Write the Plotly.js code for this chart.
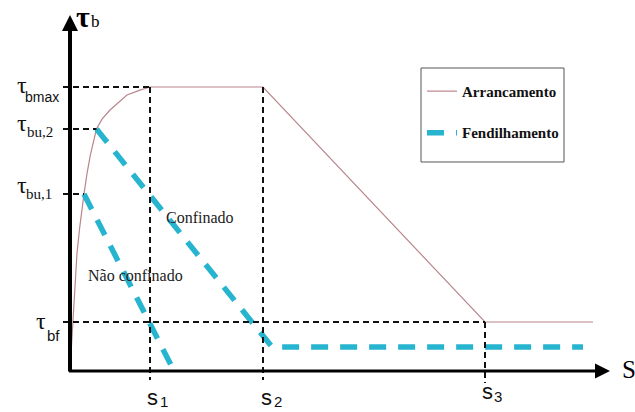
<!DOCTYPE html>
<html>
<head>
<meta charset="utf-8">
<script src="https://cdn.plot.ly/plotly-3.0.1.min.js"></script>
<style>html,body{margin:0;padding:0;background:#fff}#chart{width:635px;height:412px}</style>
</head>
<body>
<div id="chart"></div>
<script>
// ---- data ----
const sVals = [1.0, 2.4125, 5.1875];          // s1, s2, s3
const sSubs = ['1', '2', '3'];
const tauVals = [10, 8.52, 6.23, 1.725];      // tau_bmax, tau_bu,2, tau_bu,1, tau_bf
const tauSubs = ['bmax', 'bu,2', 'bu,1', 'bf'];

// Arrancamento (pull-out)
const arrX = [0, 0.019, 0.0375, 0.059, 0.0875, 0.121, 0.145, 0.175, 0.2125, 0.254, 0.331, 0.4, 0.5, 0.7125, 0.875, 1.0, 2.4125, 5.1875, 6.5375];
const arrY = [0, 0.9, 1.80, 2.96, 4.15, 5.05, 5.62, 6.23, 6.95, 7.6, 8.52, 8.87, 9.19, 9.72, 9.89, 10, 10, 1.725, 1.725];

// Fendilhamento (splitting): não confinado + confinado
const ncX = [0.175, 1.275];
const ncY = [6.23, 0.14];
const cfX = [0.331, 2.525, 6.4125];
const cfY = [8.52, 0.845, 0.845];

// ---- styling / layout ----
const SERIF = "'Liberation Serif', 'Times New Roman', serif";
const SANS = "'Liberation Sans', Arial, sans-serif";
const xRange = [-0.2, 6.8125];
const yRange = [-0.493, 12.711];
const xTip = 6.75, yTip = 12.535;
const guideLeft = -0.0875;

const traces = [
  {x: arrX, y: arrY, mode: 'lines', name: 'Arrancamento', legendgroup: 'a',
   line: {color: '#b9868c', width: 1.2}, hoverinfo: 'skip'},
  {x: ncX.concat([null], cfX), y: ncY.concat([null], cfY), mode: 'lines', name: 'Fendilhamento', legendgroup: 'b',
   line: {color: '#27b4cf', width: 5.5, dash: '17px,12px'}, hoverinfo: 'skip'}
];

const guide = {color: '#111', width: 2, dash: '6px,4px'};
const shapes = [
  {type: 'line', xref: 'x', yref: 'y', x0: guideLeft, x1: sVals[0], y0: tauVals[0], y1: tauVals[0], line: guide},
  {type: 'line', xref: 'x', yref: 'y', x0: guideLeft, x1: cfX[0], y0: tauVals[1], y1: tauVals[1], line: guide},
  {type: 'line', xref: 'x', yref: 'y', x0: guideLeft, x1: ncX[0], y0: tauVals[2], y1: tauVals[2], line: guide},
  {type: 'line', xref: 'x', yref: 'y', x0: guideLeft, x1: sVals[2], y0: tauVals[3], y1: tauVals[3], line: guide},
  {type: 'line', xref: 'x', yref: 'y', x0: sVals[0], x1: sVals[0], y0: tauVals[0], y1: -0.317, line: guide},
  {type: 'line', xref: 'x', yref: 'y', x0: sVals[1], x1: sVals[1], y0: tauVals[0], y1: -0.317, line: guide},
  {type: 'line', xref: 'x', yref: 'y', x0: sVals[2], x1: sVals[2], y0: tauVals[3], y1: -0.42, line: guide},
  // legend frame
  {type: 'rect', xref: 'paper', yref: 'paper', x0: 0.6542, x1: 0.9091, y0: 0.5947, y1: 0.8453,
   line: {color: '#555', width: 1}, fillcolor: 'rgba(0,0,0,0)'}
];

const annotations = [];
// axes arrows
annotations.push({x: 0, y: yTip, ax: 0, ay: -0.07, xref: 'x', yref: 'y', axref: 'x', ayref: 'y', text: '',
  showarrow: true, arrowhead: 2, arrowsize: 0.8, arrowwidth: 4, arrowcolor: '#000'});
annotations.push({x: xTip, y: 0, ax: -0.03, ay: 0, xref: 'x', yref: 'y', axref: 'x', ayref: 'y', text: '',
  showarrow: true, arrowhead: 2, arrowsize: 1.0, arrowwidth: 3, arrowcolor: '#000'});

function lab(x, y, text, font, xs, ys, xa, ya) {
  annotations.push({x: x, y: y, xref: 'x', yref: 'y', text: text, showarrow: false, font: font,
    xshift: xs, yshift: ys, xanchor: xa || 'center', yanchor: ya || 'middle'});
}
// axis titles
lab(0, yTip, 'τ', {family: SERIF, size: 30, color: '#000', weight: 'bold'}, 13, -1);
lab(0, yTip, 'b', {family: SERIF, size: 17, color: '#000'}, 25, -6);
lab(xTip, 0, 'S', {family: SERIF, size: 25, color: '#000'}, 10, 2, 'left');

// y tick labels
const tauOff = [[-48.5, 2.1, -28.5, -10], [-48.5, 5.6, -30, -3], [-48.5, 9.1, -31.5, 0.5], [-29, 0.6, -16.5, -13]];
const tauSubFont = [{family: SANS, size: 14, color: '#111'}, {family: SERIF, size: 15, color: '#111'},
                    {family: SERIF, size: 15, color: '#111'}, {family: SANS, size: 15, color: '#111'}];
tauVals.forEach((v, i) => {
  lab(0, v, 'τ', {family: SERIF, size: 24, color: '#111'}, tauOff[i][0], tauOff[i][1]);
  lab(0, v, tauSubs[i], tauSubFont[i], tauOff[i][2], tauOff[i][3]);
});
// x tick labels
const sOff = [[2.5, -26.1, 14, -41], [3.5, -26.1, 15, -41], [2.5, -20.1, 12.5, -36]];
sVals.forEach((v, i) => {
  lab(v, 0, 's', {family: SANS, size: 22, color: '#111'}, sOff[i][0], sOff[i][1]);
  lab(v, 0, sSubs[i], {family: SANS, size: 15, color: '#111'}, sOff[i][2], sOff[i][3], 'center', 'bottom');
});
// region labels
lab(1.625, 5.42, 'Confinado', {family: SERIF, size: 16, color: '#222'}, 0, 0);
lab(0.819, 3.38, 'Não confinado', {family: SERIF, size: 16, color: '#222'}, 0, 0);

const layout = {
  width: 635, height: 412,
  margin: {l: 54, r: 20, t: 10, b: 27, pad: 0},
  paper_bgcolor: '#fff', plot_bgcolor: '#fff',
  xaxis: {range: xRange, visible: false, fixedrange: true},
  yaxis: {range: yRange, visible: false, fixedrange: true},
  showlegend: true,
  legend: {x: 0.656, y: 0.827, xanchor: 'left', yanchor: 'top', bgcolor: 'rgba(0,0,0,0)', borderwidth: 0,
    itemwidth: 30, traceorder: 'grouped', tracegroupgap: 19,
    font: {family: SERIF, size: 15, color: '#111', weight: 'bold'}},
  shapes: shapes,
  annotations: annotations
};

Plotly.newPlot('chart', traces, layout, {staticPlot: true, displayModeBar: false});
</script>
</body>
</html>
